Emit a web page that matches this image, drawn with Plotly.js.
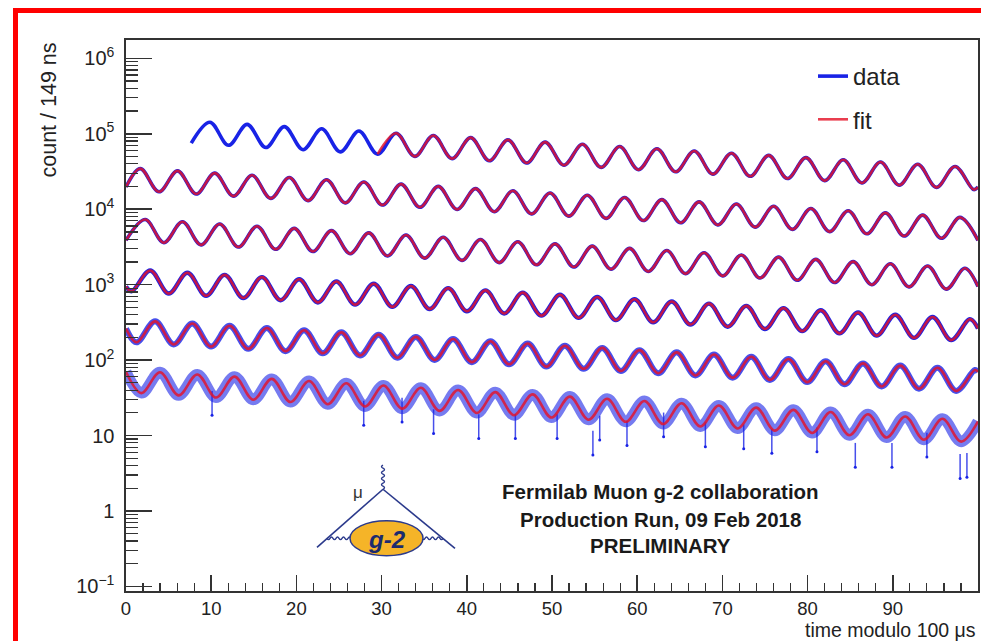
<!DOCTYPE html>
<html>
<head>
<meta charset="utf-8">
<script src="https://cdn.plot.ly/plotly-3.0.1.min.js"></script>
<style>
html,body{margin:0;padding:0;background:#fff;overflow:hidden;}
#wrap{position:relative;width:981px;height:641px;overflow:hidden;background:#fff;}
#chart{position:absolute;left:0;top:0;width:981px;height:641px;}
#frame{position:absolute;left:13px;top:8px;width:2000px;height:2000px;border-left:5px solid #ff0000;border-top:5px solid #ff0000;pointer-events:none;}
</style>
</head>
<body>
<div id="wrap"><div id="chart"></div><div id="frame"></div></div>
<script>
// ---- data: fit/data extrema per 100 us row (time in us, count / 149 ns) ----
const row1X = [7.66, 9.85, 12.03, 14.22, 16.41, 18.59, 20.78, 22.97, 25.15, 27.34, 29.53, 31.71, 33.90, 36.08, 38.27, 40.46, 42.64, 44.83, 47.02, 49.20, 51.39, 53.58, 55.76, 57.95, 60.14, 62.32, 64.51, 66.70, 68.88, 71.07, 73.26, 75.44, 77.63, 79.81, 82.00, 84.19, 86.37, 88.56, 90.75, 92.93, 95.12, 97.31, 99.49, 100];
const row1N = [75300, 142400, 70300, 133100, 65800, 124400, 61500, 116300, 57500, 108600, 53600, 101600, 50200, 94900, 46900, 88800, 43900, 83000, 41000, 77500, 38300, 72500, 35800, 67700, 33400, 63300, 31300, 59200, 29200, 55300, 27300, 51700, 25500, 48300, 23900, 45200, 22300, 42200, 20800, 39500, 19500, 36900, 18200, 19680];

const row2X = [0, 1.68, 3.87, 6.05, 8.24, 10.42, 12.61, 14.80, 16.99, 19.17, 21.36, 23.54, 25.73, 27.92, 30.10, 32.29, 34.48, 36.66, 38.85, 41.03, 43.22, 45.41, 47.60, 49.78, 51.97, 54.15, 56.34, 58.53, 60.72, 62.90, 65.09, 67.27, 69.46, 71.65, 73.84, 76.02, 78.21, 80.39, 82.58, 84.77, 86.95, 89.14, 91.33, 93.51, 95.70, 97.88, 100];
const row2N = [19680, 34500, 17000, 32200, 15900, 30100, 14900, 28150, 13900, 26300, 13000, 24600, 12150, 22990, 11360, 21490, 10620, 20080, 9920, 18770, 9270, 17550, 8670, 16400, 8100, 15330, 7570, 14320, 7070, 13390, 6610, 12520, 6180, 11700, 5780, 10930, 5400, 10220, 5050, 9552, 4720, 8929, 4410, 8345, 4120, 7802, 3863];

const row3X = [0, 2.26, 4.44, 6.63, 8.81, 11.00, 13.19, 15.38, 17.56, 19.75, 21.93, 24.12, 26.31, 28.50, 30.68, 32.87, 35.05, 37.24, 39.43, 41.61, 43.80, 45.99, 48.17, 50.36, 52.55, 54.73, 56.92, 59.11, 61.29, 63.48, 65.66, 67.85, 70.04, 72.23, 74.41, 76.60, 78.78, 80.97, 83.16, 85.35, 87.53, 89.72, 91.90, 94.09, 96.28, 98.46, 100];
const row3N = [3863, 7290, 3600, 6815, 3370, 6371, 3150, 5954, 2940, 5565, 2750, 5202, 2570, 4862, 2400, 4544, 2245, 4248, 2100, 3969, 1960, 3711, 1833, 3468, 1713, 3242, 1602, 3030, 1497, 2833, 1400, 2647, 1308, 2475, 1223, 2313, 1143, 2162, 1068, 2020, 998, 1888, 933, 1766, 872, 1650, 943];

const row4X = [0, 0.65, 2.84, 5.02, 7.21, 9.40, 11.58, 13.77, 15.96, 18.14, 20.33, 22.52, 24.70, 26.89, 29.08, 31.26, 33.45, 35.64, 37.82, 40.01, 42.20, 44.38, 46.57, 48.76, 50.94, 53.13, 55.32, 57.50, 59.69, 61.88, 64.06, 66.25, 68.43, 70.62, 72.81, 74.99, 77.18, 79.37, 81.55, 83.74, 85.93, 88.11, 90.30, 92.49, 94.67, 96.86, 99.05, 100];
const row4N = [943, 815, 1543, 762, 1441, 712, 1347, 665, 1259, 622, 1177, 581, 1100, 543, 1028, 508, 961, 475, 898, 444, 840, 415, 785, 388, 734, 363, 686, 339, 641, 317, 599, 296, 560, 277, 523, 258, 489, 242, 457, 226, 427, 211, 399, 197, 373, 184, 349, 262];

const row5X = [0, 1.23, 3.42, 5.60, 7.79, 9.98, 12.16, 14.35, 16.54, 18.72, 20.91, 23.10, 25.28, 27.47, 29.66, 31.84, 34.03, 36.22, 38.40, 40.59, 42.78, 44.96, 47.15, 49.34, 51.52, 53.71, 55.90, 58.08, 60.27, 62.46, 64.64, 66.83, 69.02, 71.20, 73.39, 75.57, 77.76, 79.95, 82.13, 84.32, 86.51, 88.69, 90.88, 93.07, 95.25, 97.44, 99.63, 100];
const row5N = [262, 172, 326, 161, 305, 151, 285, 141, 266, 131, 249, 123, 233, 115, 217.5, 107.4, 203, 100.3, 190, 93.9, 178, 87.9, 166, 82.0, 155, 76.6, 145, 71.6, 135.5, 66.9, 126.7, 62.6, 118.4, 58.5, 110.6, 54.6, 103.5, 51.1, 96.7, 47.8, 90.4, 44.7, 84.5, 41.7, 79.0, 39.0, 73.8, 69.9];

const row6X = [0, 1.81, 3.99, 6.18, 8.37, 10.56, 12.74, 14.93, 17.11, 19.30, 21.49, 23.68, 25.86, 28.05, 30.23, 32.42, 34.61, 36.80, 38.98, 41.17, 43.35, 45.54, 47.73, 49.92, 52.10, 54.29, 56.47, 58.66, 60.85, 63.04, 65.22, 67.41, 69.59, 71.78, 73.97, 76.15, 78.34, 80.53, 82.71, 84.90, 87.09, 89.27, 91.46, 93.65, 95.83, 98.02, 100];
const row6N = [69.9, 36.5, 69.0, 34.1, 64.5, 31.9, 60.3, 29.8, 56.3, 27.8, 52.7, 26.0, 49.2, 24.3, 46.0, 22.7, 43.0, 21.2, 40.2, 19.9, 37.6, 18.6, 35.1, 17.3, 32.8, 16.2, 30.7, 15.2, 28.7, 14.2, 26.8, 13.2, 25.0, 12.4, 23.4, 11.6, 21.9, 10.8, 20.5, 10.1, 19.1, 9.4, 17.9, 8.8, 16.7, 8.3, 15.4];

// low outlier bins in the last (noisiest) row
const spikeX = [10.1, 27.9, 32.4, 36.1, 41.4, 45.7, 50.6, 54.8, 55.6, 58.8, 63.1, 68.0, 72.5, 75.8, 81.1, 85.6, 89.9, 94.0, 97.9, 98.7];
const spikeN = [18.6, 13.7, 15.1, 10.6, 9.1, 9.1, 9.1, 5.5, 8.7, 7.4, 9.6, 7.1, 6.7, 5.8, 6.1, 3.8, 3.8, 5.2, 2.7, 2.8];

const DATA_START = 7.66;   // data shown from here in first row
const FIT_START = 29.53;   // fit starts here in first row

const xTickVals = [0, 10, 20, 30, 40, 50, 60, 70, 80, 90];
const yTickVals = [0.1, 1, 10, 100, 1000, 10000, 100000, 1000000];
const yTickText = ['10<sup>\u22121</sup>', '1', '10', '10<sup>2</sup>', '10<sup>3</sup>', '10<sup>4</sup>', '10<sup>5</sup>', '10<sup>6</sup>'];

// ---- styles ----
const FONT = 'Liberation Sans, Arial, Helvetica, sans-serif';
const BLUE = 'rgb(25,35,230)';
const RED = 'rgba(228,18,40,0.82)';
const dataWidth = [3.6, 3.6, 3.6, 4.4, 6, 11];
const dataColor = [BLUE, BLUE, BLUE, BLUE, 'rgba(25,35,230,0.8)', 'rgba(25,35,230,0.6)'];

const rows = [[row1X, row1N], [row2X, row2N], [row3X, row3N], [row4X, row4N], [row5X, row5N], [row6X, row6N]];

function sliceFrom(xs, ys, x0) {
  const ox = [], oy = [];
  for (let i = 0; i < xs.length; i++) if (xs[i] >= x0 - 1e-9) { ox.push(xs[i]); oy.push(ys[i]); }
  return [ox, oy];
}

const traces = [];
rows.forEach(([xs, ys], i) => {
  const [dx, dy] = i === 0 ? sliceFrom(xs, ys, DATA_START) : [xs, ys];
  traces.push({
    type: 'scatter', mode: 'lines', x: dx, y: dy,
    name: 'data', legendgroup: 'data', showlegend: i === 0,
    line: {color: dataColor[i], width: dataWidth[i], shape: 'spline', smoothing: 1},
    hoverinfo: 'skip'
  });
});
traces.push({
  type: 'scatter', mode: 'markers', x: spikeX, y: spikeN,
  name: 'data', legendgroup: 'data', showlegend: false,
  marker: {color: BLUE, size: 3},
  error_y: {type: 'percent', symmetric: false, value: 110, valueminus: 0, color: 'rgba(25,35,230,0.8)', thickness: 1.5, width: 0},
  hoverinfo: 'skip'
});
rows.forEach(([xs, ys], i) => {
  const [fx, fy] = i === 0 ? sliceFrom(xs, ys, FIT_START) : [xs, ys];
  traces.push({
    type: 'scatter', mode: 'lines', x: fx, y: fy,
    name: 'fit', legendgroup: 'fit', showlegend: i === 0,
    line: {color: RED, width: 2.6, shape: 'spline', smoothing: 1},
    hoverinfo: 'skip'
  });
});

// axis minor ticks
const xMinor = [];
for (let v = 2; v < 100; v += 2) if (v % 10 !== 0) xMinor.push(v);
const yMinor = [];
for (let e = -1; e <= 6; e++) for (let d = 2; d <= 9; d++) yMinor.push(d * Math.pow(10, e));

// ---- logo (g-2 diagram) drawn in pixel space, converted to paper coords ----
const PL = 126, PR = 978, PT = 40, PB = 590.7;
function px(x) { return (x - PL) / (PR - PL); }
function py(y) { return (PB - y) / (PB - PT); }
function wavy(x0, y0, x1, y1, n, amp) {
  const dx = x1 - x0, dy = y1 - y0, len = Math.hypot(dx, dy);
  const nx = -dy / len, ny = dx / len;
  let s = 'M' + px(x0) + ',' + py(y0);
  for (let i = 1; i <= n; i++) {
    const t = (i - 0.5) / n, sgn = (i % 2) ? 1 : -1;
    const cx = x0 + dx * t + nx * amp * sgn, cy = y0 + dy * t + ny * amp * sgn;
    const ex = x0 + dx * i / n, ey = y0 + dy * i / n;
    s += ' Q' + px(cx) + ',' + py(cy) + ' ' + px(ex) + ',' + py(ey);
  }
  return s;
}
const NAVY = '#2b3a8c';
const shapes = [
  {type: 'line', xref: 'paper', yref: 'paper', x0: px(383), y0: py(489), x1: px(317), y1: py(547), line: {color: NAVY, width: 1.6}},
  {type: 'line', xref: 'paper', yref: 'paper', x0: px(383), y0: py(489), x1: px(455), y1: py(548), line: {color: NAVY, width: 1.6}},
  {type: 'path', xref: 'paper', yref: 'paper', path: wavy(383, 465, 383, 489, 8, 3), line: {color: NAVY, width: 1.4}},
  {type: 'path', xref: 'paper', yref: 'paper', path: wavy(327, 538, 351, 538, 8, 2.5), line: {color: NAVY, width: 1.4}},
  {type: 'path', xref: 'paper', yref: 'paper', path: wavy(422, 538, 443, 538, 7, 2.5), line: {color: NAVY, width: 1.4}},
  {type: 'circle', xref: 'paper', yref: 'paper', x0: px(350), x1: px(423), y0: py(555.5), y1: py(520.5), fillcolor: '#F5B428', line: {color: NAVY, width: 1.5}}
];

const annotations = [
  {xref: 'paper', yref: 'paper', x: px(387), y: py(539), text: '<b><i>g-2</i></b>', showarrow: false, xanchor: 'center', yanchor: 'middle', font: {family: FONT, size: 24, color: '#1c2b6e'}},
  {xref: 'paper', yref: 'paper', x: px(358), y: py(492), text: '\u03bc', showarrow: false, xanchor: 'center', yanchor: 'middle', font: {family: FONT, size: 17, color: '#333'}},
  {xref: 'paper', yref: 'paper', x: px(660), y: py(491), text: '<b>Fermilab Muon g-2 collaboration</b>', showarrow: false, xanchor: 'center', yanchor: 'middle', font: {family: FONT, size: 20.5, color: '#1a1a1a'}},
  {xref: 'paper', yref: 'paper', x: px(660), y: py(519), text: '<b>Production Run, 09 Feb 2018</b>', showarrow: false, xanchor: 'center', yanchor: 'middle', font: {family: FONT, size: 20.5, color: '#1a1a1a'}},
  {xref: 'paper', yref: 'paper', x: px(660), y: py(545.5), text: '<b>PRELIMINARY</b>', showarrow: false, xanchor: 'center', yanchor: 'middle', font: {family: FONT, size: 20.5, color: '#1a1a1a'}},
  {xref: 'paper', yref: 'paper', x: px(49), y: py(41), text: 'count / 149 ns', textangle: -90, showarrow: false, xanchor: 'center', yanchor: 'top', font: {family: FONT, size: 21.5, color: '#222'}},
  {xref: 'paper', yref: 'paper', x: 1, y: py(630), text: 'time modulo 100 \u03bcs', showarrow: false, xanchor: 'right', yanchor: 'middle', font: {family: FONT, size: 19.5, color: '#222'}}
];

const layout = {
  width: 981, height: 641,
  margin: {l: 126, r: 3, t: 40, b: 50.3, pad: 0},
  paper_bgcolor: '#fff', plot_bgcolor: '#fff',
  font: {family: FONT, color: '#222'},
  showlegend: true,
  legend: {x: px(813), y: py(54), xanchor: 'left', yanchor: 'top', bgcolor: 'rgba(0,0,0,0)', borderwidth: 0,
           font: {family: FONT, size: 24, color: '#222'}, tracegroupgap: 9, itemwidth: 30},
  xaxis: {
    range: [0, 100], tickmode: 'array', tickvals: xTickVals,
    ticks: 'inside', ticklen: 16, tickwidth: 1.5, tickcolor: '#333',
    showline: true, linecolor: '#333', linewidth: 1.6, mirror: true,
    showgrid: false, zeroline: false, ticklabelstandoff: 0,
    tickfont: {family: FONT, size: 18.5, color: '#222'},
    minor: {tickmode: 'array', tickvals: xMinor, ticks: 'inside', ticklen: 8, tickwidth: 1.2, tickcolor: '#333', showgrid: false}
  },
  yaxis: {
    type: 'log', range: [-1.061, 6.243], tickmode: 'array', tickvals: yTickVals, ticktext: yTickText,
    ticks: 'inside', ticklen: 26, tickwidth: 1.5, tickcolor: '#333',
    showline: true, linecolor: '#333', linewidth: 1.6, mirror: true,
    showgrid: false, zeroline: false, ticklabelstandoff: 6,
    tickfont: {family: FONT, size: 20, color: '#222'},
    minor: {tickmode: 'array', tickvals: yMinor, ticks: 'inside', ticklen: 12, tickwidth: 1.2, tickcolor: '#333', showgrid: false}
  },
  shapes: shapes,
  annotations: annotations
};

Plotly.newPlot('chart', traces, layout, {displayModeBar: false, staticPlot: true});
</script>
</body>
</html>
